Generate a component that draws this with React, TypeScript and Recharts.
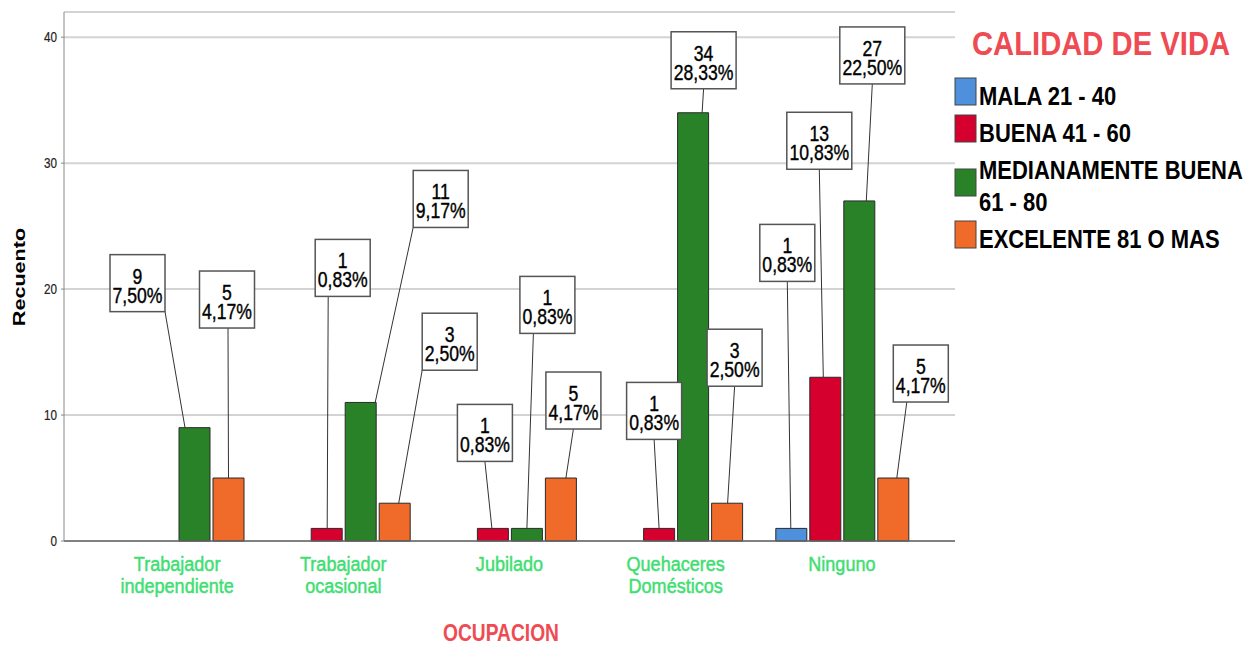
import { Bar, BarChart, CartesianGrid, Customized, LabelList, XAxis, YAxis } from "recharts";

const categories = ["Trabajador independiente", "Trabajador ocasional", "Jubilado", "Quehaceres Domésticos", "Ninguno"];
const mala = [0, 0, 0, 0, 1];
const buena = [0, 1, 1, 1, 13];
const medianamente = [9, 11, 1, 34, 27];
const excelente = [5, 3, 5, 3, 5];
const yTicks = [0, 10, 20, 30, 40];

const FONT = "'Liberation Sans', Arial, sans-serif";
const RED = "#ef4b53";
const GREEN_TEXT = "#3fde72";

const series = [
  { key: "mala", name: "MALA 21 - 40", color: "#4f90dc", values: mala },
  { key: "buena", name: "BUENA 41 - 60", color: "#d6002e", values: buena },
  { key: "medianamente", name: "MEDIANAMENTE BUENA\n61 - 80", color: "#2a8228", values: medianamente },
  { key: "excelente", name: "EXCELENTE 81 O MAS", color: "#f06a2a", values: excelente },
];

const rows = categories.map((name, i) => {
  const row: Record<string, string | number> = { name };
  series.forEach((s) => (row[s.key] = s.values[i]));
  return row;
});

const total = series.reduce((acc, s) => acc + s.values.reduce((a, b) => a + b, 0), 0);
const fmtPct = (v: number) => ((v / total) * 100).toFixed(2).replace(".", ",") + "%";

// callout placement per bar: [box dx from bar centre, box bottom dy from bar top,
// leader start dx from box centre, leader end dx from bar centre]
const callouts: Record<string, (number[] | null)[]> = {
  mala: [null, null, null, null, [-4, -247, 0, -0.5]],
  buena: [null, [16, -232, -14.5, 0.5], [-8, -67, 0, -1], [-5, -89, 0, 0], [-6, -208, 0, -2]],
  medianamente: [[-57, -116, 27.5, -9.5], [80, -175, -27.5, 14.5], [20.5, -195, -14, 0], [10.5, -24, 0, 9], [13, -117, 0, 7]],
  excelente: [[-1.5, -150, 1, 0], [55, -133, -27.5, 4], [12.5, -49, 0, 5], [7.5, -117, 0, 0.5], [27.5, -76, -14, 3.5]],
};

function Narrow({ x, y, size, sx = 0.8, anchor = "middle", weight = 400, fill = "#000", rotate = 0, heavy = 0, children }: any) {
  const t = `translate(${x},${y})${rotate ? ` rotate(${rotate})` : ""} scale(${sx},1)`;
  return (
    <text
      transform={t}
      textAnchor={anchor}
      fontFamily={FONT}
      fontSize={size}
      fontWeight={weight}
      fill={fill}
      stroke={heavy ? fill : "none"}
      strokeWidth={heavy}
    >
      {children}
    </text>
  );
}

// the label value is the category name, so each callout looks up its own count
function Callout(props: any) {
  const { offsets, values } = props;
  const i = categories.indexOf(String(props.value));
  const o = offsets[i];
  const value = values[i];
  if (!o || !value) return null;
  const x = Number(props.x);
  const y = Number(props.y);
  const cx = x + Number(props.width) / 2;
  const bx = cx + o[0];
  const bottom = y + o[1];
  const pct = fmtPct(value);
  const w = pct.length > 5 ? 65 : 55;
  const h = 57;
  return (
    <g>
      <line x1={bx + o[2]} y1={bottom} x2={cx + o[3]} y2={y} stroke="#333" strokeWidth={1} />
      <rect x={bx - w / 2} y={bottom - h} width={w} height={h} fill="#fff" stroke="#555" strokeWidth={1.5} />
      <Narrow x={bx} y={bottom - h + 29} size={22} heavy={0.4}>{value}</Narrow>
      <Narrow x={bx} y={bottom - h + 48} size={22} heavy={0.4}>{pct}</Narrow>
    </g>
  );
}

function CategoryTick({ x, y, payload }: any) {
  const lines = String(payload.value).split(" ");
  return (
    <g>
      {lines.map((line, i) => (
        <Narrow key={i} x={x} y={y + 30 + i * 22} size={21} sx={0.86} fill={GREEN_TEXT} heavy={0.5}>
          {line}
        </Narrow>
      ))}
    </g>
  );
}

function CountTick({ x, y, payload }: any) {
  return (
    <Narrow x={x} y={y + 5} size={15} sx={0.78} anchor="end" fill="#222" heavy={0.2}>
      {payload.value}
    </Narrow>
  );
}

function Overlay() {
  let baseline = 105;
  const items = series.map((s) => {
    const lines = s.name.split("\n");
    const first = baseline;
    baseline += (lines.length - 1) * 32 + 37;
    const swatchBottom = first + (lines.length - 1) * 17;
    return (
      <g key={s.key}>
        <rect x={955} y={swatchBottom - 27} width={21} height={27} fill={s.color} stroke="#444" strokeWidth={1} />
        {lines.map((line, i) => (
          <Narrow key={i} x={979} y={first + i * 32} size={25} sx={0.88} anchor="start" weight={700}>
            {line}
          </Narrow>
        ))}
      </g>
    );
  });
  return (
    <g>
      <Narrow x={972} y={55} size={34} sx={0.86} anchor="start" weight={700} fill={RED}>
        CALIDAD DE VIDA
      </Narrow>
      {items}
      <Narrow x={25} y={277} size={17} sx={1.27} rotate={-90} weight={700}>
        Recuento
      </Narrow>
      <Narrow x={501} y={641} size={24} sx={0.8} weight={700} fill={RED}>
        OCUPACION
      </Narrow>
    </g>
  );
}

export default function App() {
  return (
    <div style={{ position: "absolute", left: 0, top: 0, width: 1248, height: 646, background: "#fff" }}>
      <BarChart
        width={1248}
        height={646}
        data={rows}
        margin={{ top: 12, right: 293, bottom: 0, left: 0 }}
        barSize={31}
        barGap={3}
      >
        <CartesianGrid stroke="#d3d3d3" strokeWidth={2} vertical={false} />
        <XAxis
          dataKey="name"
          height={105}
          padding={{ left: 30, right: 30 }}
          interval={0}
          tickLine={false}
          tickSize={0}
          tickMargin={0}
          axisLine={{ stroke: "#666", strokeWidth: 1.5 }}
          tick={<CategoryTick />}
        />
        <YAxis
          width={64}
          domain={[0, 42]}
          ticks={yTicks}
          tickSize={3}
          tickMargin={4}
          axisLine={{ stroke: "#888" }}
          tickLine={{ stroke: "#888" }}
          tick={<CountTick />}
        />
        {series.map((s) => (
          <Bar key={s.key} dataKey={s.key} name={s.name} fill={s.color} stroke="#2a2a2a" strokeWidth={1} isAnimationActive={false}>
            <LabelList
              dataKey="name"
              content={(p: any) => <Callout {...p} offsets={callouts[s.key]} values={s.values} />}
            />
          </Bar>
        ))}
        <Customized component={Overlay} />
      </BarChart>
    </div>
  );
}
